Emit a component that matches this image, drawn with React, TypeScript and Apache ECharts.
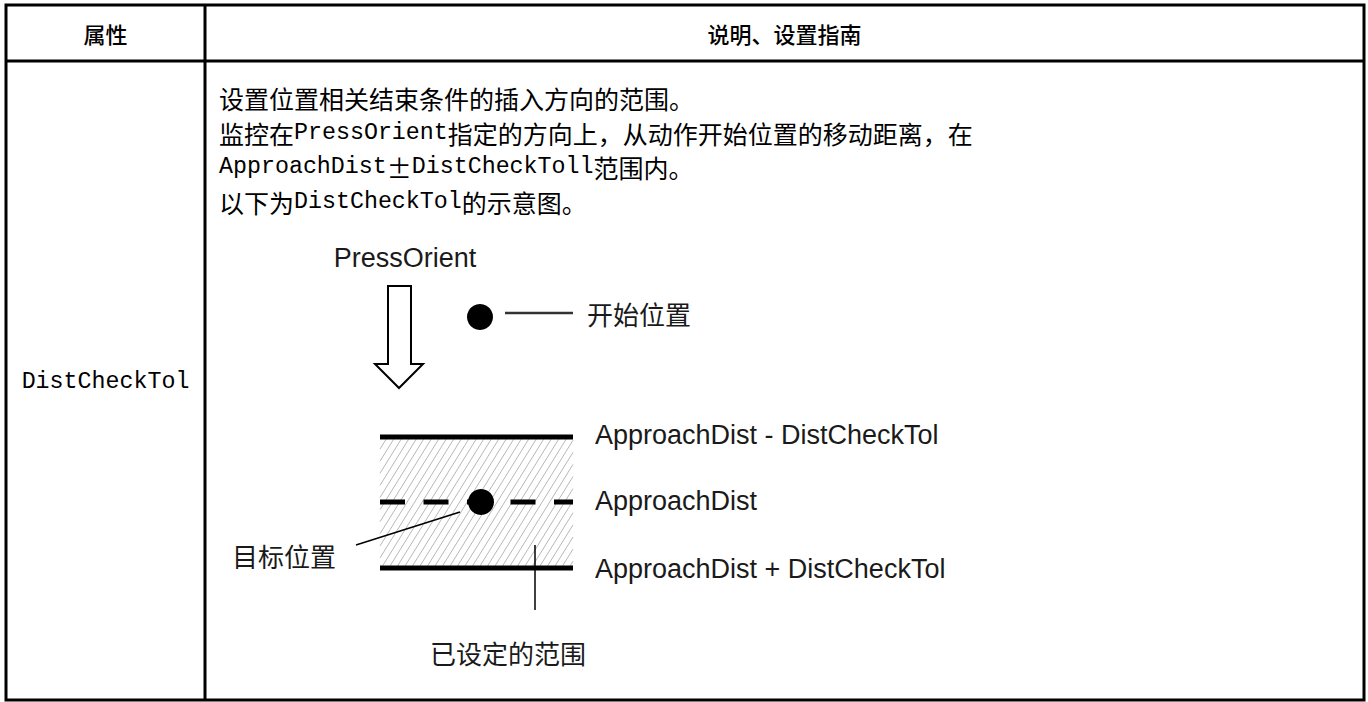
import React, { useEffect, useRef } from "react";
import * as echarts from "echarts";

// ---- content ----
const HEADERS: string[] = ["属性", "说明、设置指南"];
const PROPERTY_NAME = "DistCheckTol";
const DESC_LINES: string[] = [
  "设置位置相关结束条件的插入方向的范围。",
  "监控在PressOrient指定的方向上，从动作开始位置的移动距离，在",
  "ApproachDist±DistCheckToll范围内。",
  "以下为DistCheckTol的示意图。",
];
const ARROW_LABEL = "PressOrient";
const START_LABEL = "开始位置";
const RANGE_LABELS: string[] = [
  "ApproachDist - DistCheckTol",
  "ApproachDist",
  "ApproachDist + DistCheckTol",
];
const TARGET_LABEL = "目标位置";
const RANGE_NOTE = "已设定的范围";

const W = 1368;
const H = 702;

function toRich(line: string): string {
  const parts: string[] = [];
  let cur = "";
  let curLat: boolean | null = null;
  for (const ch of line) {
    const lat = ch.charCodeAt(0) < 128;
    if (curLat === null || lat === curLat) {
      cur += ch;
    } else {
      parts.push(`{${curLat ? "lat" : "cjk"}|${cur}}`);
      cur = ch;
    }
    curLat = lat;
  }
  if (cur) parts.push(`{${curLat ? "lat" : "cjk"}|${cur}}`);
  return parts.join("");
}

const BODY_RICH = {
  lat: { fontFamily: "Liberation Mono", fontSize: 23.3, fill: "#000" },
  cjk: { fontFamily: "Noto Sans CJK SC", fontSize: 25, fill: "#000" },
};

function buildGraphic(): any[] {
  const els: any[] = [];
  const L = 6, R = 1364, T = 5, B = 700;
  const colX = 205;
  const headY = 61;
  // table borders
  els.push({ type: "rect", shape: { x: L, y: T, width: R - L, height: B - T }, style: { fill: "#fff", stroke: "#000", lineWidth: 3 } });
  els.push({ type: "line", shape: { x1: L, y1: headY, x2: R, y2: headY }, style: { stroke: "#000", lineWidth: 3 } });
  els.push({ type: "line", shape: { x1: colX, y1: T, x2: colX, y2: B }, style: { stroke: "#000", lineWidth: 3 } });
  // headers
  els.push({ type: "text", x: (L + colX) / 2, y: 33, style: { text: HEADERS[0], fontFamily: "Noto Sans CJK SC", fontSize: 22, fontWeight: 500, fill: "#000", align: "center", verticalAlign: "middle" } });
  els.push({ type: "text", x: (colX + R) / 2, y: 33, style: { text: HEADERS[1], fontFamily: "Noto Sans CJK SC", fontSize: 22, fontWeight: 500, fill: "#000", align: "center", verticalAlign: "middle" } });
  // property name
  els.push({ type: "text", x: (L + colX) / 2, y: 382, style: { text: toRich(PROPERTY_NAME), rich: BODY_RICH, align: "center", verticalAlign: "middle" } });
  // description lines
  const lineYs = [98, 132.5, 167, 201.5];
  DESC_LINES.forEach((ln, i) => {
    els.push({ type: "text", x: 219, y: lineYs[i], style: { text: toRich(ln), rich: BODY_RICH, align: "left", verticalAlign: "middle" } });
  });

  // ---- diagram ----
  const sansLat = "Liberation Sans";
  const sansCjk = "Noto Sans CJK SC";
  const dark = "#1a1a1a";
  els.push({ type: "text", x: 405, y: 258, style: { text: ARROW_LABEL, fontFamily: sansLat, fontSize: 27, fill: dark, align: "center", verticalAlign: "middle" } });
  // hollow arrow
  els.push({
    type: "polygon",
    shape: { points: [[388, 286], [411, 286], [411, 364], [423, 364], [399, 388], [375, 364], [388, 364]] },
    style: { fill: "#fff", stroke: "#000", lineWidth: 2 },
  });
  // start position
  els.push({ type: "circle", shape: { cx: 480, cy: 317, r: 13 }, style: { fill: "#000" } });
  els.push({ type: "line", shape: { x1: 505, y1: 313, x2: 573, y2: 313 }, style: { stroke: "#333", lineWidth: 2.5 } });
  els.push({ type: "text", x: 587, y: 313, style: { text: START_LABEL, fontFamily: sansCjk, fontSize: 26, fill: dark, align: "left", verticalAlign: "middle" } });

  // hatched range
  const x0 = 380, x1 = 573, y0 = 437, y1 = 568;
  const h = y1 - y0;
  const dx = h * 0.62;
  for (let c = x0 - dx; c < x1; c += 7.5) {
    const tMin = Math.max(0, (x0 - c) / dx);
    const tMax = Math.min(1, (x1 - c) / dx);
    if (tMin < tMax) {
      els.push({
        type: "line",
        shape: { x1: c + tMin * dx, y1: y1 - tMin * h, x2: c + tMax * dx, y2: y1 - tMax * h },
        style: { stroke: "#b8b8b8", lineWidth: 1 },
      });
    }
  }
  els.push({ type: "line", shape: { x1: x0, y1: y0, x2: x1, y2: y0 }, style: { stroke: "#000", lineWidth: 5 } });
  els.push({ type: "line", shape: { x1: x0, y1: y1, x2: x1, y2: y1 }, style: { stroke: "#000", lineWidth: 5 } });
  els.push({ type: "line", shape: { x1: x0, y1: 502, x2: x1, y2: 502 }, style: { stroke: "#000", lineWidth: 5, lineDash: [25, 18.5] } });
  els.push({ type: "circle", shape: { cx: 481, cy: 502, r: 13 }, style: { fill: "#000" } });
  // leader to target
  els.push({ type: "line", shape: { x1: 356, y1: 545, x2: 460, y2: 512 }, style: { stroke: "#000", lineWidth: 1.5 } });
  els.push({ type: "text", x: 336, y: 555, style: { text: TARGET_LABEL, fontFamily: sansCjk, fontSize: 26, fill: dark, align: "right", verticalAlign: "middle" } });
  // vertical marker
  els.push({ type: "line", shape: { x1: 535, y1: 545, x2: 535, y2: 610 }, style: { stroke: "#000", lineWidth: 1.5 } });
  els.push({ type: "text", x: 508, y: 652, style: { text: RANGE_NOTE, fontFamily: sansCjk, fontSize: 26, fill: dark, align: "center", verticalAlign: "middle" } });
  // range labels
  const labelYs = [435, 501, 569];
  RANGE_LABELS.forEach((t, i) => {
    els.push({ type: "text", x: 595, y: labelYs[i], style: { text: t, fontFamily: sansLat, fontSize: 27, fill: dark, align: "left", verticalAlign: "middle" } });
  });
  return els;
}

export default function App() {
  const ref = useRef<HTMLDivElement>(null);
  useEffect(() => {
    if (!ref.current) return;
    const chart = echarts.init(ref.current, undefined, { renderer: "svg" });
    chart.setOption({
      animation: false,
      backgroundColor: "#fff",
      graphic: { elements: buildGraphic() },
    });
    return () => chart.dispose();
  }, []);
  return (
    <div
      ref={ref}
      style={{ position: "absolute", left: 0, top: 0, width: W, height: H, background: "#fff" }}
    />
  );
}
